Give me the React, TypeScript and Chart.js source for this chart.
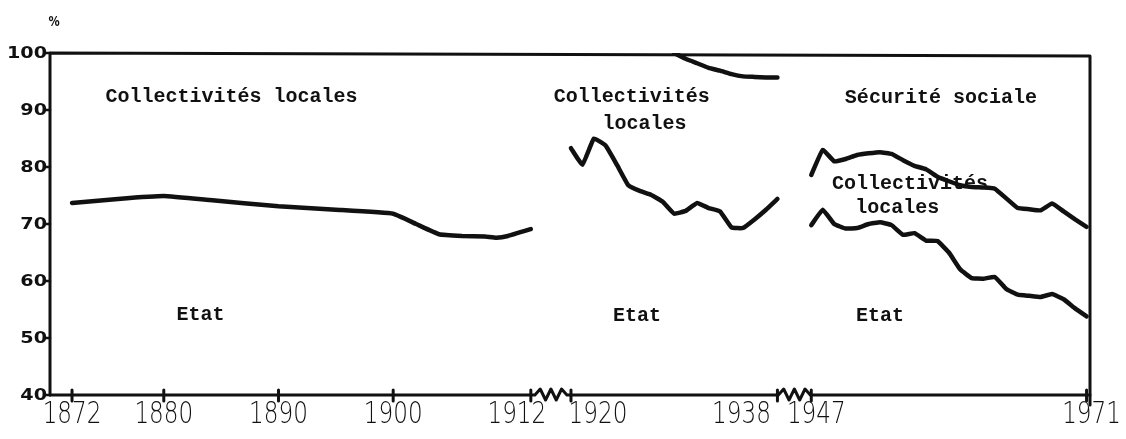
import React, { useEffect, useRef } from "react";
import { Chart, registerables } from "chart.js";

Chart.register(...registerables);

// ---- Data (share of public expenditure, %) ----
// Period 1: 1872-1912, Etat share (rest = Collectivités locales)
const YEARS_A = [1872, 1876, 1880, 1884, 1890, 1895, 1900, 1902, 1904, 1906, 1908, 1909, 1910, 1912];
const ETAT_A = [73.7, 74.4, 74.9, 74.2, 73.1, 72.5, 71.8, 70.0, 68.2, 67.9, 67.8, 67.6, 67.9, 69.1];

// Period 2: 1920-1938
const YEARS_B = [1920, 1921, 1922, 1923, 1924, 1925, 1926, 1927, 1928, 1929, 1930, 1931, 1932, 1933, 1934, 1935, 1936, 1937, 1938];
const ETAT_B = [83.3, 80.4, 85.0, 83.8, 80.4, 76.8, 75.8, 75.1, 73.9, 71.8, 72.3, 73.7, 72.8, 72.2, 69.4, 69.3, 70.8, 72.5, 74.4];
// Etat + Collectivités locales (100 - Sécurité sociale)
const YEARS_B_SS = [1929, 1930, 1931, 1932, 1933, 1934, 1935, 1936, 1937, 1938];
const ETAT_COLL_B = [100, 99.0, 98.2, 97.4, 96.9, 96.3, 95.9, 95.8, 95.7, 95.7];

// Period 3: 1947-1971
const YEARS_C = [1947, 1948, 1949, 1950, 1951, 1952, 1953, 1954, 1955, 1956, 1957, 1958, 1959, 1960, 1961, 1962, 1963, 1964, 1965, 1966, 1967, 1968, 1969, 1970, 1971];
const ETAT_C = [69.8, 72.5, 70.0, 69.2, 69.3, 70.0, 70.3, 69.8, 68.1, 68.4, 67.1, 67.0, 65.0, 62.0, 60.5, 60.4, 60.7, 58.6, 57.6, 57.4, 57.2, 57.7, 56.8, 55.2, 53.8];
const ETAT_COLL_C = [78.6, 83.0, 81.0, 81.4, 82.1, 82.4, 82.6, 82.3, 81.2, 80.2, 79.6, 78.3, 77.5, 76.8, 76.5, 76.4, 76.2, 74.5, 72.8, 72.6, 72.4, 73.6, 72.2, 70.8, 69.5];

// Axis
const X_TICKS = [1872, 1880, 1890, 1900, 1912, 1920, 1938, 1947, 1971];
const Y_TICKS = [40, 50, 60, 70, 80, 90, 100];
const Y_MIN = 40;
const Y_MAX = 100;
// broken axis: real spans replaced by shorter gaps (in years)
const BREAKS = [
  { from: 1912, to: 1920, gap: 3.5 },
  { from: 1938, to: 1947, gap: 2.95 },
];

// Text annotations (year, value)
const NOTES = [
  { text: "Collectivités locales", year: 1885.9, value: 92.3 },
  { text: "Etat", year: 1883.2, value: 54.0 },
  { text: "Collectivités", year: 1925.3, value: 92.2 },
  { text: "locales", year: 1926.4, value: 87.6 },
  { text: "Etat", year: 1925.75, value: 53.8 },
  { text: "Sécurité sociale", year: 1958.3, value: 92.1 },
  { text: "Collectivités", year: 1955.6, value: 77.1 },
  { text: "locales", year: 1954.5, value: 72.9 },
  { text: "Etat", year: 1953.0, value: 53.8 },
];

// label nudges (px) for the tick labels around the breaks
const TICK_LABEL_DX: Record<number, number> = { 1912: -14, 1920: 27, 1938: -36, 1947: 5, 1971: 5 };

function axisPos(year: number): number {
  let p = year - 1872;
  for (const b of BREAKS) {
    if (year >= b.to) p -= b.to - b.from - b.gap;
  }
  return p;
}

const X_MIN = axisPos(1872) - 1.92;
const X_MAX = axisPos(1971) + 0.3;

const toPoints = (years: number[], vals: number[]) =>
  years.map((y, i) => ({ x: axisPos(y), y: vals[i] }));

function drawText(
  ctx: CanvasRenderingContext2D,
  text: string,
  x: number,
  y: number,
  font: string,
  align: CanvasTextAlign,
  sx: number
) {
  ctx.save();
  ctx.translate(x, y);
  ctx.scale(sx, 1);
  ctx.font = font;
  ctx.textAlign = align;
  ctx.textBaseline = "middle";
  ctx.fillStyle = "#111";
  ctx.fillText(text, 0, 0);
  ctx.restore();
}

const axesPlugin = {
  id: "scanAxes",
  afterDatasetsDraw(chart: any) {
    const { ctx, chartArea, scales } = chart;
    const xs = scales.x;
    const ys = scales.y;
    const L = chartArea.left;
    const R = chartArea.right;
    const T = chartArea.top;
    const B = chartArea.bottom;
    ctx.save();
    ctx.strokeStyle = "#111";
    ctx.lineCap = "round";
    ctx.lineJoin = "round";

    // frame: left, top, right
    ctx.lineWidth = 3;
    ctx.beginPath();
    ctx.moveTo(L, B);
    ctx.lineTo(L, T);
    ctx.lineTo(R, T + 3);
    ctx.lineTo(R, B + 10);
    ctx.stroke();

    // bottom axis with zigzag breaks
    ctx.lineWidth = 3;
    ctx.beginPath();
    ctx.moveTo(L, B);
    const zig: [number, number][] = BREAKS.map((b) => {
      const a = xs.getPixelForValue(axisPos(b.from));
      const c = xs.getPixelForValue(axisPos(b.to));
      const mid = (a + c) / 2;
      return [mid - 16, mid + 16];
    });
    for (const [z0, z1] of zig) {
      ctx.lineTo(z0, B);
      const n = 6;
      const step = (z1 - z0) / n;
      for (let i = 1; i < n; i++) {
        ctx.lineTo(z0 + i * step, B + (i % 2 === 1 ? -6 : 5));
      }
      ctx.lineTo(z1, B);
    }
    ctx.lineTo(R, B);
    ctx.stroke();

    // x ticks
    ctx.lineWidth = 3;
    for (const yr of X_TICKS) {
      const px = xs.getPixelForValue(axisPos(yr));
      ctx.beginPath();
      ctx.moveTo(px, B - 5);
      ctx.lineTo(px, B + 6);
      ctx.stroke();
    }
    // y ticks
    ctx.lineWidth = 2.5;
    for (const v of Y_TICKS) {
      const py = ys.getPixelForValue(v);
      ctx.beginPath();
      ctx.moveTo(L - 6, py);
      ctx.lineTo(L, py);
      ctx.stroke();
    }

    // tick labels
    for (const yr of X_TICKS) {
      const px = xs.getPixelForValue(axisPos(yr)) + (TICK_LABEL_DX[yr] || 0);
      drawText(ctx, String(yr), px, B + 20, "200 30px 'DejaVu Sans'", "center", 0.77);
    }
    for (const v of Y_TICKS) {
      const py = ys.getPixelForValue(v);
      drawText(ctx, String(v), L - 3, py + 1, "bold 16px 'DejaVu Sans'", "right", 1.2);
    }
    drawText(ctx, "%", L + 4, T - 31, "bold 14px 'DejaVu Sans'", "center", 0.8);

    // annotations
    for (const n of NOTES) {
      const px = xs.getPixelForValue(axisPos(n.year));
      const py = ys.getPixelForValue(n.value);
      drawText(ctx, n.text, px, py, "bold 20px 'Liberation Mono'", "center", 1.0);
    }
    ctx.restore();
  },
};

export default function App() {
  const ref = useRef<HTMLCanvasElement>(null);

  useEffect(() => {
    if (!ref.current) return;
    const lineStyle = {
      borderColor: "#111",
      borderWidth: 4.5,
      pointRadius: 0,
      tension: 0.1,
      borderCapStyle: "round" as const,
      borderJoinStyle: "round" as const,
      fill: false,
    };
    const chart = new Chart(ref.current, {
      type: "line",
      data: {
        datasets: [
          { label: "Etat 1872-1912", data: toPoints(YEARS_A, ETAT_A), ...lineStyle },
          { label: "Etat 1920-1938", data: toPoints(YEARS_B, ETAT_B), ...lineStyle },
          { label: "Etat + Coll. 1929-1938", data: toPoints(YEARS_B_SS, ETAT_COLL_B), ...lineStyle },
          { label: "Etat 1947-1971", data: toPoints(YEARS_C, ETAT_C), ...lineStyle },
          { label: "Etat + Coll. 1947-1971", data: toPoints(YEARS_C, ETAT_COLL_C), ...lineStyle },
        ],
      },
      options: {
        animation: false,
        responsive: false,
        maintainAspectRatio: false,
        layout: { padding: { left: 50, right: 36, top: 53, bottom: 44 } },
        plugins: {
          legend: { display: false },
          tooltip: { enabled: false },
          title: { display: false },
        },
        scales: {
          x: { type: "linear", min: X_MIN, max: X_MAX, display: false },
          y: { type: "linear", min: Y_MIN, max: Y_MAX, display: false },
        },
      },
      plugins: [axesPlugin],
    });
    return () => chart.destroy();
  }, []);

  return (
    <div style={{ position: "absolute", left: 0, top: 0, width: 1126, height: 439, background: "#fff" }}>
      <canvas ref={ref} width={1126} height={439} />
    </div>
  );
}
